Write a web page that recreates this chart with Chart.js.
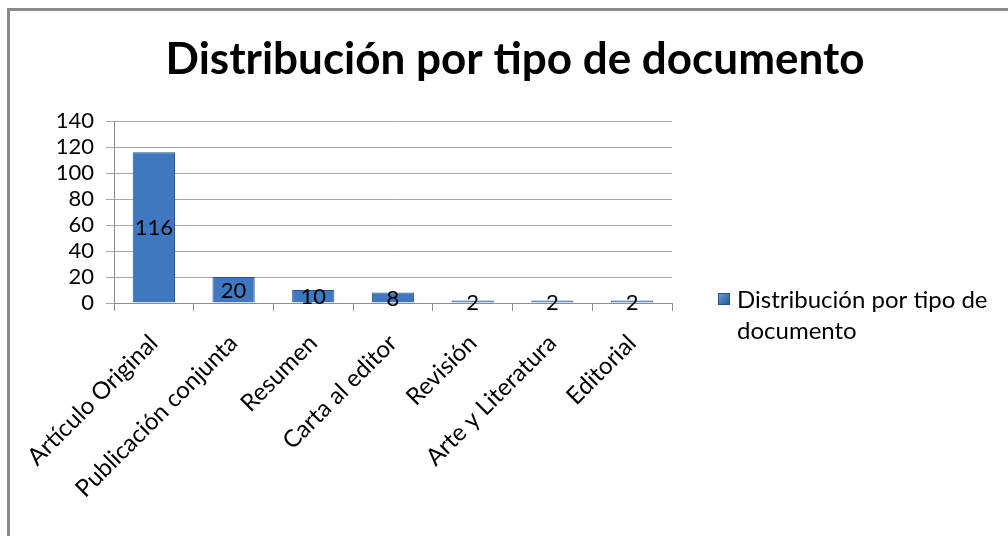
<!DOCTYPE html>
<html>
<head>
<meta charset="utf-8">
<script src="https://cdn.jsdelivr.net/npm/chart.js@4"></script>
<style>
html,body{margin:0;padding:0;background:#fff;}
#wrap{position:relative;width:1008px;height:536px;overflow:hidden;}
#frame{position:absolute;left:7px;top:8px;width:1100px;height:600px;border-left:3px solid #8a8a8a;border-top:3px solid #8a8a8a;box-sizing:border-box;}
canvas{position:absolute;left:0;top:0;}
</style>
</head>
<body>
<div id="wrap">
<div id="frame"></div>
<canvas id="c" width="1008" height="536"></canvas>
</div>
<script>
const categories = ["Artículo Original","Publicación conjunta","Resumen","Carta al editor","Revisión","Arte y Literatura","Editorial"];
const values = [116, 20, 10, 8, 2, 2, 2];
const seriesName = "Distribución por tipo de documento";
const legendLines = ["Distribución por tipo de", "documento"];
const titleText = "Distribución por tipo de documento";
const FONT = "Lato, 'Open Sans', sans-serif";

function barFill(context){
  const chart = context.chart;
  const el = context.element;
  if(!chart.chartArea || !el || el.width === undefined) return '#3f78c0';
  const g = chart.ctx.createLinearGradient(el.x - el.width/2, 0, el.x + el.width/2, 0);
  g.addColorStop(0, '#24548f');
  g.addColorStop(0.12, '#3570b8');
  g.addColorStop(0.5, '#4482cf');
  g.addColorStop(0.88, '#3570b8');
  g.addColorStop(1, '#24548f');
  return g;
}

const titlePlugin = {
  id: 'topTitle',
  afterDraw(chart){
    const ctx = chart.ctx;
    ctx.save();
    ctx.font = "bold 44px " + FONT;
    ctx.fillStyle = '#000';
    ctx.textAlign = 'center';
    ctx.textBaseline = 'middle';
    ctx.fillText(titleText, 515, 60);
    ctx.restore();
  }
};

const labelPlugin = {
  id: 'centerLabels',
  afterDatasetsDraw(chart){
    const ctx = chart.ctx;
    const meta = chart.getDatasetMeta(0);
    ctx.save();
    ctx.font = "22px " + FONT;
    ctx.fillStyle = '#000';
    ctx.textAlign = 'center';
    ctx.textBaseline = 'middle';
    meta.data.forEach((bar, i) => {
      const yc = (bar.y + bar.base) / 2;
      ctx.fillText(String(values[i]), bar.x, yc + 1);
    });
    ctx.restore();
  }
};

const legendPlugin = {
  id: 'sideLegend',
  afterDraw(chart){
    const ctx = chart.ctx;
    const a = chart.chartArea;
    const x = a.right + 46;
    const y = a.bottom - 10;
    ctx.save();
    const g = ctx.createLinearGradient(x, y, x + 12, y + 12);
    g.addColorStop(0, '#6a9ee0');
    g.addColorStop(1, '#24548f');
    ctx.fillStyle = g;
    ctx.fillRect(x, y, 12, 12);
    ctx.strokeStyle = '#24548f';
    ctx.lineWidth = 1;
    ctx.strokeRect(x + 0.5, y + 0.5, 11, 11);
    ctx.font = "24px " + FONT;
    ctx.fillStyle = '#000';
    ctx.textAlign = 'left';
    ctx.textBaseline = 'middle';
    legendLines.forEach((t, i) => ctx.fillText(t, x + 19, y + 7 + i * 31));
    ctx.restore();
  }
};

new Chart(document.getElementById('c'), {
  type: 'bar',
  data: {
    labels: categories,
    datasets: [{
      label: seriesName,
      data: values,
      backgroundColor: barFill,
      borderColor: '#24548f',
      borderWidth: 1,
      barPercentage: 0.53,
      categoryPercentage: 1.0
    }]
  },
  options: {
    responsive: false,
    animation: false,
    devicePixelRatio: 1,
    layout: { padding: { left: 0, right: 336, top: 121, bottom: 0 } },
    plugins: {
      legend: { display: false },
      tooltip: { enabled: false },
      title: { display: false }
    },
    scales: {
      x: {
        grid: { display: true, drawOnChartArea: false, drawTicks: true, tickLength: 8, color: '#8c8c8c', offset: true },
        border: { display: true, color: '#8c8c8c' },
        ticks: { color: '#000', font: { family: FONT, size: 24 }, maxRotation: 45, minRotation: 45, padding: 18, autoSkip: false },
        afterFit(scale){ scale.height = 233; }
      },
      y: {
        min: 0, max: 140,
        grid: { color: '#a6a6a6', tickLength: 8, drawTicks: true },
        border: { display: true, color: '#8c8c8c' },
        ticks: { stepSize: 20, color: '#000', font: { family: FONT, size: 22, lineHeight: 1 }, padding: 12, autoSkip: false },
        afterFit(scale){ scale.width = 114; }
      }
    }
  },
  plugins: [titlePlugin, labelPlugin, legendPlugin]
});
</script>
</body>
</html>
